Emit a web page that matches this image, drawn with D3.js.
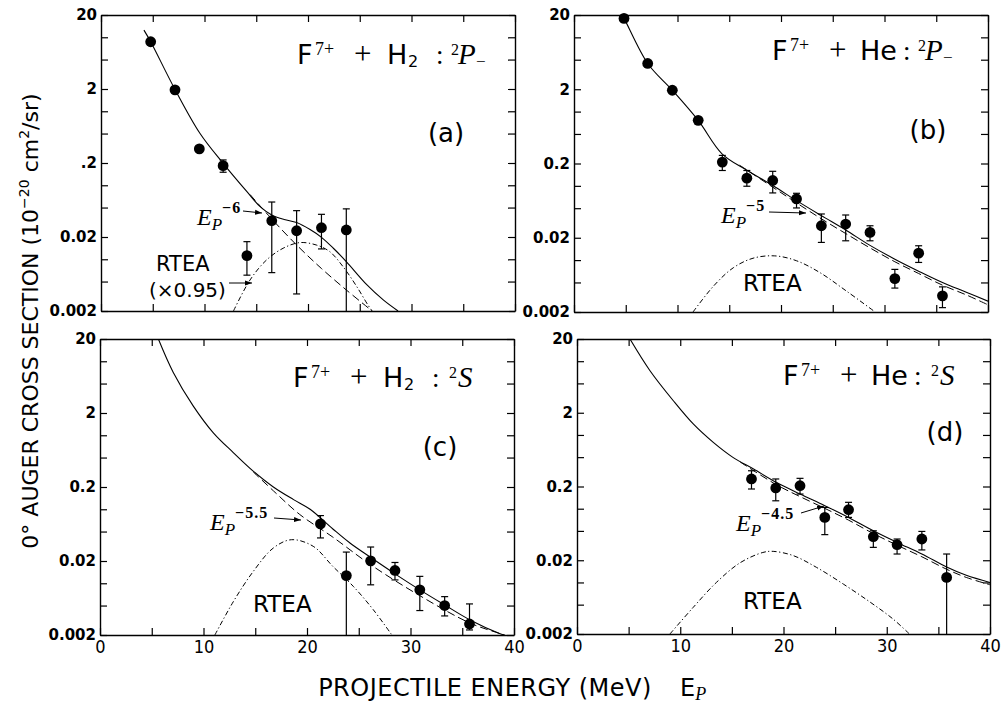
<!DOCTYPE html>
<html>
<head>
<meta charset="utf-8">
<script src="https://cdn.jsdelivr.net/npm/d3@7"></script>
<style>
	body { margin: 0; background: #fff; }
	svg { font-family: "DejaVu Sans", sans-serif; }
	text { fill: #000; white-space: pre; }
	.serif { font-family: "Liberation Serif", "DejaVu Serif", serif; }
	.tick text { font-family: "DejaVu Sans", sans-serif; font-weight: bold; font-size: 15px; }
	.xaxis .tick text { font-weight: normal; font-stretch: condensed; font-size: 18px; }
	.domain { stroke: #000; stroke-width: 1.4; }
	.tick line { stroke: #000; stroke-width: 1.2; }
</style>
</head>
<body>
<svg id="chart" width="1005" height="706"></svg>
<script>
// energies in MeV, cross sections in 1e-20 cm^2/sr

let xTicks = [0, 5, 10, 15, 20, 25, 30, 35, 40];
let xLabelled = [0, 10, 20, 30, 40];
let yTicks = [20, 10, 5, 2, 1, 0.5, 0.2, 0.1, 0.05, 0.02, 0.01, 0.005, 0.002];
let yLabelled = [20, 2, 0.2, 0.02, 0.002];
let yTickLabels = ["20", "2", "0.2", "0.02", "0.002"];
let yTickLabelsA = ["20", "2", ".2", "0.02", "0.002"];

// (a) F7+ + H2 : 2P-
let aEnergy = [4.8, 7.15, 9.5, 11.8, 14.1, 16.5, 18.9, 21.3, 23.7];
let aCross = [8.7, 1.95, 0.31, 0.184, 0.0112, 0.0332, 0.0243, 0.0267, 0.0249];
let aErrHi = [null, null, null, 0.22, 0.0173, 0.0594, 0.0454, 0.0405, 0.048];
let aErrLo = [null, null, null, 0.15, 0.0061, 0.0066, 0.0034, 0.0138, 0.002];
let aTotal = [[4.15, 12.5], [4.8, 8.7], [7.15, 1.97], [9.57, 0.5], [11.8, 0.198], [14.1, 0.082],
	[15.4, 0.051], [16.5, 0.0397], [17.7, 0.0345], [18.9, 0.0313], [20.2, 0.0252], [21.3, 0.0198],
	[22.45, 0.0141], [23.7, 0.0093], [25.7, 0.0045], [27.3, 0.0028], [28.7, 0.002]];
let aPower = [[14.4, 0.075], [16.5, 0.035], [18.9, 0.0156], [21.3, 0.0075], [23.7, 0.00385], [26.2, 0.002]];
let aRtea = [[12.8, 0.002], [14.4, 0.00525], [16.0, 0.0098], [17.6, 0.0141], [19.2, 0.0168], [20.8, 0.0156],
	[22.1, 0.0127], [23.4, 0.0079], [24.7, 0.0043], [25.8, 0.0024], [26.2, 0.002]];

// (b) F7+ + He : 2P-
let bEnergy = [4.83, 7.12, 9.5, 12.0, 14.33, 16.7, 19.2, 21.5, 23.9, 26.25, 28.6, 31.0, 33.3, 35.6];
let bCross = [18, 4.45, 1.94, 0.762, 0.209, 0.127, 0.118, 0.0667, 0.029, 0.0306, 0.0236, 0.00564, 0.0124, 0.0033];
let bErrHi = [null, null, null, null, 0.257, 0.161, 0.157, 0.0794, 0.0418, 0.0405, 0.029, 0.0075, 0.0156, 0.00436];
let bErrLo = [null, null, null, null, 0.161, 0.0988, 0.0803, 0.0504, 0.0173, 0.0182, 0.0182, 0.0042, 0.0093, 0.00229];
let bTotal = [[4.6, 20], [4.83, 18], [7.12, 4.45], [9.5, 1.94], [12.0, 0.76], [14.3, 0.27], [16.7, 0.162],
	[19.2, 0.101], [21.5, 0.0632], [23.9, 0.0397], [26.25, 0.0254], [28.6, 0.0158], [31.0, 0.0103],
	[33.3, 0.0071], [35.6, 0.005], [37.9, 0.0037], [40, 0.0028]];
let bPower = [[16.0, 0.19], [19.2, 0.096], [21.5, 0.059], [23.9, 0.036], [26.25, 0.0228], [28.6, 0.0146],
	[31.0, 0.0095], [33.3, 0.0066], [35.6, 0.0046], [37.9, 0.0034], [40, 0.0025]];
let bRtea = [[11.5, 0.002], [13.5, 0.0045], [15.4, 0.0079], [17.3, 0.0106], [19.4, 0.0114], [21.5, 0.0098],
	[23.75, 0.0068], [26.3, 0.00385], [29.1, 0.002]];

// (c) F7+ + H2 : 2S
let cEnergy = [21.3, 23.8, 26.15, 28.5, 30.9, 33.3, 35.7];
let cCross = [0.0634, 0.0127, 0.0201, 0.0149, 0.00815, 0.005, 0.00282];
let cErrHi = [0.0822, 0.0264, 0.0309, 0.0191, 0.0124, 0.0066, 0.00526];
let cErrLo = [0.041, 0.002, 0.00953, 0.0111, 0.00428, 0.00362, 0.00234];
let cTotal = [[5.64, 20], [7.08, 7.07], [9.0, 2.5], [10.95, 1.08], [12.9, 0.58], [14.8, 0.328], [16.75, 0.2],
	[18.7, 0.135], [20.3, 0.1], [22.5, 0.0542], [24.15, 0.035], [26.1, 0.0226], [28.5, 0.0134],
	[30.9, 0.00815], [33.3, 0.0051], [35.75, 0.0032], [38.6, 0.0021], [40, 0.0018]];
let cPower = [[14.8, 0.32], [17.0, 0.165], [19.3, 0.085], [22.5, 0.042], [26.1, 0.018], [30.9, 0.0068],
	[35.75, 0.0029], [38.6, 0.0021], [40, 0.0018]];
let cRtea = [[11.1, 0.002], [12.9, 0.0057], [14.8, 0.0144], [16.75, 0.03], [18.5, 0.0388], [20.6, 0.0316],
	[22.5, 0.0169], [24.5, 0.009], [26.4, 0.0044], [28.2, 0.002]];

// (d) F7+ + He : 2S
let dEnergy = [16.9, 19.25, 21.6, 24.0, 26.3, 28.7, 31.0, 33.4, 35.8];
let dCross = [0.253, 0.191, 0.205, 0.0762, 0.0969, 0.0417, 0.0325, 0.0388, 0.0117];
let dErrHi = [0.327, 0.253, 0.258, 0.104, 0.122, 0.0502, 0.0388, 0.0492, 0.0243];
let dErrLo = [0.185, 0.128, 0.158, 0.0445, 0.0762, 0.0299, 0.0243, 0.0276, 0.002];
let dTotal = [[5.13, 20], [7.07, 7.43], [9.33, 2.91], [11.26, 1.41], [13.2, 0.793], [15.1, 0.497],
	[17.1, 0.345], [19.3, 0.228], [21.6, 0.158], [24.0, 0.11], [26.3, 0.0762], [28.7, 0.0502],
	[31.0, 0.0349], [33.4, 0.0243], [35.8, 0.0162], [37.7, 0.0125], [40, 0.01]];
let dPower = [[15.8, 0.43], [19.3, 0.212], [21.6, 0.146], [24.0, 0.101], [26.3, 0.07], [28.7, 0.046],
	[31.0, 0.032], [33.4, 0.0223], [35.8, 0.0151], [37.7, 0.0117], [40, 0.0093]];
let dRtea = [[9.0, 0.002], [11.26, 0.0046], [13.5, 0.01], [15.8, 0.0185], [18.0, 0.0255], [19.0, 0.0264],
	[20.95, 0.0231], [23.2, 0.016], [25.8, 0.0095], [28.4, 0.0054], [30.6, 0.0032], [32.2, 0.002]];


let svg = d3.select("#chart");

svg.append("defs").append("marker")
	.attr("id", "arrow")
	.attr("viewBox", "0 0 10 10")
	.attr("refX", 10)
	.attr("refY", 5)
	.attr("markerWidth", 7)
	.attr("markerHeight", 7)
	.attr("orient", "auto")
	.append("path")
	.attr("d", "M0,1.5L10,5L0,8.5z");

let panels = [
	{ name: "a", left: 101, top: 15, width: 414, height: 296, showX: false, yLabels: yTickLabelsA,
		energy: aEnergy, cross: aCross, hi: aErrHi, lo: aErrLo, total: aTotal, power: aPower, rtea: aRtea },
	{ name: "b", left: 574, top: 15, width: 414, height: 297, showX: false, yLabels: yTickLabels,
		energy: bEnergy, cross: bCross, hi: bErrHi, lo: bErrLo, total: bTotal, power: bPower, rtea: bRtea },
	{ name: "c", left: 100, top: 339, width: 414, height: 296, showX: true, yLabels: yTickLabels,
		energy: cEnergy, cross: cCross, hi: cErrHi, lo: cErrLo, total: cTotal, power: cPower, rtea: cRtea },
	{ name: "d", left: 577, top: 339, width: 413, height: 295, showX: true, yLabels: yTickLabels,
		energy: dEnergy, cross: dCross, hi: dErrHi, lo: dErrLo, total: dTotal, power: dPower, rtea: dRtea },
];

panels.forEach(drawPanel);


function drawPanel(p) {
	let x = d3.scaleLinear().domain([0, 40]).range([p.left, p.left + p.width]);
	let y = d3.scaleLog().domain([0.002, 20]).range([p.top + p.height, p.top]);
	let g = svg.append("g");

	g.append("clipPath")
		.attr("id", "clip-" + p.name)
		.append("rect")
		.attr("x", p.left)
		.attr("y", p.top)
		.attr("width", p.width)
		.attr("height", p.height);

	let line = d3.line()
		.x(d => x(d[0]))
		.y(d => y(d[1]))
		.curve(d3.curveCatmullRom.alpha(0.5));

	let curves = g.append("g").attr("clip-path", `url(#clip-${p.name})`);
	curves.append("path")
		.datum(p.total)
		.attr("d", line)
		.attr("fill", "none")
		.attr("stroke", "#000")
		.attr("stroke-width", 1.1);
	curves.append("path")
		.datum(p.power)
		.attr("d", line)
		.attr("fill", "none")
		.attr("stroke", "#000")
		.attr("stroke-width", 1)
		.attr("stroke-dasharray", "8,4");
	curves.append("path")
		.datum(p.rtea)
		.attr("d", line)
		.attr("fill", "none")
		.attr("stroke", "#000")
		.attr("stroke-width", 1)
		.attr("stroke-dasharray", "5,2.5,1.2,2.5");

	// error bars
	p.energy.forEach((e, i) => {
		if (p.hi[i] == null) return;
		let cx = x(e);
		g.append("line")
			.attr("x1", cx).attr("x2", cx)
			.attr("y1", y(p.hi[i])).attr("y2", y(p.lo[i]))
			.attr("stroke", "#000").attr("stroke-width", 1.2);
		[p.hi[i], p.lo[i]].forEach(v => {
			if (v <= 0.0021) return;
			g.append("line")
				.attr("x1", cx - 3.5).attr("x2", cx + 3.5)
				.attr("y1", y(v)).attr("y2", y(v))
				.attr("stroke", "#000").attr("stroke-width", 1.2);
		});
	});

	g.selectAll("circle.pt")
		.data(p.energy)
		.join("circle")
		.attr("class", "pt")
		.attr("cx", d => x(d))
		.attr("cy", (d, i) => y(p.cross[i]))
		.attr("r", 5.4)
		.attr("fill", "#000");

	// axes, ticks pointing inwards on all four sides
	let yFormat = d => {
		let i = yLabelled.indexOf(d);
		return i < 0 ? "" : p.yLabels[i];
	};
	g.append("g")
		.attr("transform", `translate(${p.left},0)`)
		.call(d3.axisLeft(y).tickValues(yTicks).tickSize(-7).tickSizeOuter(0).tickPadding(4).tickFormat(yFormat));
	g.append("g")
		.attr("transform", `translate(${p.left + p.width},0)`)
		.call(d3.axisRight(y).tickValues(yTicks).tickSize(-7).tickSizeOuter(0).tickFormat(""));
	g.append("g")
		.attr("transform", `translate(0,${p.top})`)
		.call(d3.axisTop(x).tickValues(xTicks).tickSize(-7).tickSizeOuter(0).tickFormat(""));
	g.append("g")
		.attr("class", "xaxis")
		.attr("transform", `translate(0,${p.top + p.height})`)
		.call(d3.axisBottom(x).tickValues(xTicks).tickSize(-7).tickSizeOuter(0).tickPadding(5)
			.tickFormat(d => p.showX && xLabelled.includes(d) ? String(d) : ""));
	g.selectAll(".domain").attr("fill", "none");
}


function put(x, y, str, size, opts) {
	opts = opts || {};
	let t = svg.append("text")
		.attr("x", x)
		.attr("y", y)
		.attr("font-size", size)
		.text(str);
	if (opts.serif) t.attr("class", "serif");
	if (opts.italic) t.attr("font-style", "italic");
	if (opts.bold) t.attr("font-weight", "bold");
	if (opts.anchor) t.attr("text-anchor", opts.anchor);
	return t;
}

function arrow(x1, y1, x2, y2) {
	svg.append("line")
		.attr("x1", x1).attr("y1", y1)
		.attr("x2", x2).attr("y2", y2)
		.attr("stroke", "#000")
		.attr("stroke-width", 1)
		.attr("marker-end", "url(#arrow)");
}

// reaction titles, pieces placed one by one
function reaction(x0, y0, target, state) {
	put(x0, y0, "F", 27);
	put(x0 + 18, y0 - 9, "7+", 18, { serif: true });
	put(x0 + 57, y0, "+", 31, { serif: true });
	if (target == "H") {
		put(x0 + 90, y0, "H", 27);
		put(x0 + 111, y0 + 3, "2", 16);
	} else {
		put(x0 + 88, y0, "He", 27);
	}
	let c = target == "H" ? x0 + 139 : x0 + 131;
	put(c, y0, ":", 27, { serif: true });
	if (state == "P") {
		put(c + 15, y0 - 9, "2", 16, { serif: true });
		put(c + 22, y0, "P", 29, { serif: true, italic: true });
		put(c + 40, y0 + 3, "−", 17, { serif: true });
	} else {
		put(c + 17, y0 - 9, "2", 16, { serif: true });
		put(c + 26, y0, "S", 29, { serif: true, italic: true });
	}
}

reaction(297, 64, "H", "P");
reaction(772, 60, "He", "P");
reaction(293, 387, "H", "S");
reaction(783, 385, "He", "S");

put(446, 142, "(a)", 26, { anchor: "middle" });
put(928, 139, "(b)", 26, { anchor: "middle" });
put(440, 456, "(c)", 26, { anchor: "middle" });
put(945, 441, "(d)", 26, { anchor: "middle" });

// E_P^exp written as one text element
function powerLabel(x0, y0, exp) {
	let t = svg.append("text")
		.attr("class", "serif")
		.attr("x", x0 - 2)
		.attr("y", y0)
		.attr("font-size", 24)
		.attr("font-style", "italic");
	t.append("tspan").text("E");
	t.append("tspan").attr("dy", 5).attr("font-size", 17).text("P");
	t.append("tspan").attr("dy", -17).attr("font-size", 16).attr("font-style", "normal")
		.attr("font-weight", "bold").attr("letter-spacing", 1).text("−" + exp);
}

powerLabel(199, 225, "6");
arrow(243, 211, 262, 213);
powerLabel(723, 223, "5");
arrow(769, 212, 806, 213);
powerLabel(212, 530, "5.5");
arrow(274, 518, 301, 520);
powerLabel(738, 531, "4.5");
arrow(801, 513, 824, 506);

put(156, 271, "RTEA", 21);
put(149, 297, "(×0.95)", 20);
arrow(229, 283, 252, 283);
put(743, 291, "RTEA", 23);
put(253, 612, "RTEA", 23);
put(743, 609, "RTEA", 23);

// axis titles
let yTitle = svg.append("text")
	.attr("transform", "translate(38,321) rotate(-90)")
	.attr("text-anchor", "middle")
	.attr("font-size", 22);
yTitle.append("tspan").text("0° AUGER CROSS SECTION (10");
yTitle.append("tspan").attr("font-size", 14).attr("dy", -9).text("−20");
yTitle.append("tspan").attr("dy", 9).text(" cm");
yTitle.append("tspan").attr("font-size", 14).attr("dy", -9).text("2");
yTitle.append("tspan").attr("dy", 9).text("/sr)");

put(485, 696, "PROJECTILE ENERGY (MeV)", 24, { anchor: "middle" }).attr("letter-spacing", 0.5);
let ep = svg.append("text").attr("x", 680).attr("y", 696).attr("font-size", 24);
ep.append("tspan").text("E");
ep.append("tspan").attr("class", "serif").attr("dy", 4).attr("font-size", 18).attr("font-style", "italic").text("P");
</script>
</body>
</html>
